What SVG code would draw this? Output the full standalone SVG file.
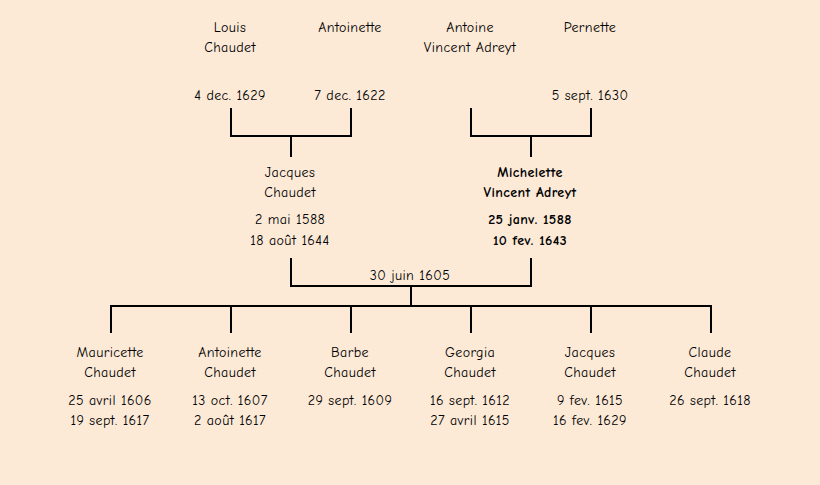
<svg xmlns="http://www.w3.org/2000/svg" width="820" height="485" viewBox="0 0 820 485">
<style>
text{font-family:"Comic Sans MS","Comic Neue","Liberation Sans",sans-serif;font-size:14px;letter-spacing:0.4px;fill:#000;text-anchor:middle}
.b{font-weight:bold}
.c{fill:none;stroke:#000;stroke-width:2}
</style>
<rect width="820" height="485" fill="#FCEAD7"/>
<g id="connectors">
<path class="c" d="M231 108V136H351V108M291 136V157"/>
<path class="c" d="M471 108V136H591V108M531 136V157"/>
<path class="c" d="M291 258V286H531V258M411 286V306"/>
<path class="c" d="M111 333V306H711V333M231 306V333M351 306V333M471 306V333M591 306V333"/>
<text x="410" y="280">30 juin 1605</text>
</g>
<g id="louis"><text x="230" y="32">Louis</text><text x="230" y="52">Chaudet</text><text x="230" y="100">4 dec. 1629</text></g>
<g id="antoinette-mere"><text x="350" y="32">Antoinette</text><text x="350" y="100">7 dec. 1622</text></g>
<g id="antoine"><text x="470" y="32">Antoine</text><text x="470" y="52">Vincent Adreyt</text></g>
<g id="pernette"><text x="590" y="32">Pernette</text><text x="590" y="100">5 sept. 1630</text></g>
<g id="jacques-pere"><text x="290" y="177">Jacques</text><text x="290" y="197">Chaudet</text><text x="290" y="224">2 mai 1588</text><text x="290" y="245">18 août 1644</text></g>
<g id="michelette"><text class="b" x="530" y="177">Michelette</text><text class="b" x="530" y="197">Vincent Adreyt</text><text class="b" x="530" y="224">25 janv. 1588</text><text class="b" x="530" y="245">10 fev. 1643</text></g>
<g id="mauricette"><text x="110" y="357">Mauricette</text><text x="110" y="377">Chaudet</text><text x="110" y="405">25 avril 1606</text><text x="110" y="425">19 sept. 1617</text></g>
<g id="antoinette"><text x="230" y="357">Antoinette</text><text x="230" y="377">Chaudet</text><text x="230" y="405">13 oct. 1607</text><text x="230" y="425">2 août 1617</text></g>
<g id="barbe"><text x="350" y="357">Barbe</text><text x="350" y="377">Chaudet</text><text x="350" y="405">29 sept. 1609</text></g>
<g id="georgia"><text x="470" y="357">Georgia</text><text x="470" y="377">Chaudet</text><text x="470" y="405">16 sept. 1612</text><text x="470" y="425">27 avril 1615</text></g>
<g id="jacques"><text x="590" y="357">Jacques</text><text x="590" y="377">Chaudet</text><text x="590" y="405">9 fev. 1615</text><text x="590" y="425">16 fev. 1629</text></g>
<g id="claude"><text x="710" y="357">Claude</text><text x="710" y="377">Chaudet</text><text x="710" y="405">26 sept. 1618</text></g>
</svg>
